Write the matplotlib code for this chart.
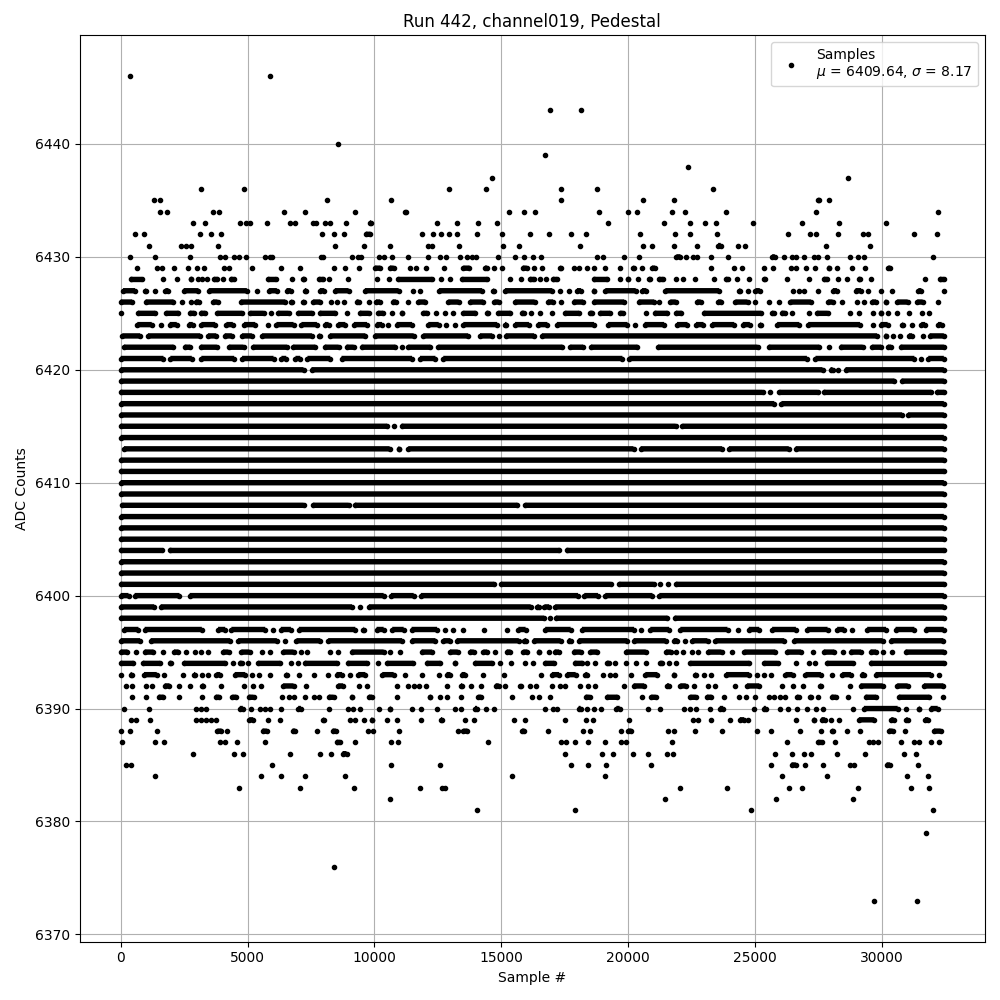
import numpy as np
import matplotlib
matplotlib.use("Agg")
import matplotlib.pyplot as plt

# samples, one list per ADC level
# a number is a lone sample, a pair (a, b) is a run of touching samples
adc_6446 = [381, 5865]
adc_6443 = [16917, 18140]
adc_6440 = [8548]
adc_6439 = [16719]
adc_6438 = [22361]
adc_6437 = [14623, 28673]
adc_6436 = [3182, 4879, 12926, 14386, 17351, 18771, 23347]
adc_6435 = [1328, 1565, 8114, 10638, 17351, 20586, 21808, (27410, 27620), 27923]
adc_6434 = [1565, 1841, 3656, 3866, 6417, 7246, 9218, 11190, 11243, 15293, 15885, 16325, 18850, 19994, 20349,
            21730, 22256, 23860, 27410, 32223]
adc_6433 = [2867, 3340, 4721, 4944, 5115, 5747, 6654, 6851, 7561, 7693, 8035, 8232, 8863, (9731, 9955), 12453,
            13242, 14071, 14820, 19205, 21414, 22440, 23031, 23465, 24925, 26858, 28318, 30172]
adc_6432 = [552, 934, 3143, 3577, 3971, 7916, 8390, 8784, (9573, 9928), 11861, 12295, 12611, 12926, 13268, 14031,
            15017, 16128, 16877, 17745, 18337, 20467, 21848, 22440, 23505, 26306, 27174, 27410, 28278, 29264, 29462,
            31276, 32184]
adc_6431 = [1131, 2380, 2564, 2775, 3853, 8429, 9573, 10599, 12098, 12256, 13321, 15057, 15688, 18100, 20586,
            20941, 21808, 22716, (23544, 23650), 24333, 24609, 27805, 29541]
adc_6430 = [381, 1368, 2748, 3906, 4103, 4484, 4681, 4958, 5668, 5878, 5957, 7890, 7969, 9100, 9337, 9468, 10165,
            10362, 10678, 11309, 12098, 12571, 12808, 13360, 13636, 13834, 14005, 14860, 15530, 15891, 16246, 16562,
            18771, 19008, 19836, 20428, (21901, 22058), 22295, 22558, 22716, 23268, 23939, (25675, 25780), 26148,
            26464, 26621, 26937, 27331, 27489, 27844, 28752, 29067, 29304, 32026]
adc_6429 = [657, 1447, 1644, 2117, 2669, 3025, 3301, 4090, 4287, 5194, 6299, 7048, 8390, 8824, 9402, (9928, 10322),
            (10520, 10849), 11401, 11625, 12019, 12729, (13413, 13834), (14268, 14531), 14702, 15017, (15846, 16003),
            16285, 16601, (17232, 17430), 17863, 18061, 18376, 18652, 19086, 19678, (20112, 20309), 20546,
            (20941, 21059), 23268, 24175, 24491, 25359, 25714, 26424, 26621, 27016, 27371, (27805, 28002), 28239,
            28830, 29343, (30251, 30329)]
adc_6428 = [(302, 920), 1670, 2235, (2669, 2880), 3064, 3222, 3419, (3682, 3813), 4037, (4247, 4537), (5720, 6207),
            6733, (7101, 7325), (7824, 7982), 8192, 8942, 10086, 10559, (10849, 12361), 12611, 12966, (13374, 14531),
            15333, 15767, (16043, 16377), 16535, 16772, (17035, 17193), (18547, 19270), 19678, (19902, 20086), 20388,
            (20743, 20954), (21217, 21375), 21887, 22163, 22650, 23400, (23768, 24005), 24294, 24767, (25280, 25477),
            26266, 27134, (27713, 27844), 28278, 28633, (28988, 29225), 29580, 31710, (32289, 32440)]
adc_6427 = [(92, 657), (881, 1078), 1368, (1762, 1880), (2393, 3156), (3380, 5063), 5391, (5747, 6246), (6535, 6706),
            (7167, 7404), (7758, 8114), (8350, 9073), (9534, 11046), 11506, 11782, (12453, 14333), (14597, 14794),
            (15057, 17100), 17324, 17653, (17982, 18140), (18547, 18745), (19008, 20388), (20546, 20717),
            (21375, 23676), (24294, 24504), 24728, (25017, 25188), 26503, 26740, 26937, 27489, (27976, 28318),
            (28870, 29265), 29462, 29975, 30409, (31434, 31553), 32440]
adc_6426 = [(0, 539), (894, 2170), 2433, 2762, (2959, 3090), (3551, 3906), (4642, 6575), (6641, 6838), (7101, 7298),
            (7496, 7956), 8285, 8508, 8784, (9205, 9468), 9771, (10060, 10218), (10717, 10849), 11309, (11638, 12098),
            (12821, 13413), (13676, 14373), (14728, 14899), (15451, 16404), (16746, 17127), 17364, (17758, 18310),
            (18547, 19928), (20323, 21112), 21217, (21572, 21966), (22624, 22950), (23544, 23676), (24136, 24793),
            25004, 25543, 25951, (26306, 27292), (27792, 28147), 28436, 29028, 29304, (29527, 29856), (30054, 30251),
            (30514, 31106), (31302, 31697), 32223]
adc_6425 = [26, (592, 1447), (1710, 2367), (2722, 2893), (3156, 3327), (3722, 4866), (5023, 5720), 5918, (6115, 6706),
            (6904, 7627), (7758, 8548), 8902, (9337, 9863), (10060, 10428), 10691, (10980, 11178), (11835, 12164), 12440,
            12769, 13084, (13413, 14071), (14333, 14557), (14794, 15451), (15714, 15983), 16180, 16522, 16996,
            (17430, 18153), (18416, 18679), (18810, 19376), (19599, 19875), 20691, (20954, 21638), (21795, 22190),
            (22887, 25320), (25583, 25820), (26043, 26174), 26437, 27134, (27358, 27950), 28739, 29107, 29633,
            (29856, 30054), 30251, 30606, 31079, 31592, 31868]
adc_6424 = [(565, 1315), 1604, (1841, 2301), (2591, 2932), (3090, 3813), (4077, 4510), (4773, 5392), 5786, (6049, 6904),
            (7035, 7824), (7956, 8285), (8482, 8942), (9100, 9797), (9994, 10388), 10520, (10783, 11572), (12032, 12624),
            12821, 13163, (13413, 14925), (15057, 15293), (15451, 16180), (16351, 16904), (17100, 18745), (19113, 20060),
            20257, (20559, 21506), (21835, 22426), (22584, 23058), (23216, 24268), (24425, 24886), (25122, 25320),
            (25780, 26832), (27003, 29225), 29659, (29856, 30317), (30711, 30908), 31171, (31460, 31789), (32118, 32355)]
adc_6423 = [(66, 855), (986, 3222), (3353, 3853), (4011, 4471), (4694, 5260), (5483, 7627), (7719, 7929), (8153, 9731),
            (9928, 11638), (11835, 13781), (14071, 14728), 14899, (15083, 16378), (16509, 29896), (30054, 30251), 30421,
            30711, (30974, 31276), 31605, (31789, 32440)]
adc_6422 = [(131, 2170), (2433, 2827), (3064, 3879), (4182, 4931), (5128, 6640), (6706, 7758), (7956, 8679), (8811, 9271),
            (9402, 10915), 11072, (11243, 12295), (12427, 17495), (17627, 18310), (18442, 20454), (21085, 25188),
            (25451, 27620), 27910, (28278, 29331), (29527, 30054), (30146, 30448), (30645, 32440)]
adc_6421 = [(0, 1775), (1868, 2893), (3090, 4563), (4694, 6115), (6246, 6614), (6799, 7167), (7272, 8350), (8613, 11572),
            (11704, 12493), (12624, 19862), (19954, 27134), (27292, 31368), 31539, (31737, 32440)]
adc_6420 = [(0, 7298), (7430, 27750), (27884, 28147), 28278, (28476, 32440)]
adc_6419 = [(0, 30580), (30685, 32440)]
adc_6418 = [(0, 25385), 25583, (25872, 27555), (27620, 32026), (32092, 32440)]
adc_6417 = [(0, 25845), (25951, 32440)]
adc_6416 = [(0, 30880), (30940, 32440)]
adc_6415 = [(0, 10586), 10783, (10980, 21960), (22050, 32440)]
adc_6414 = [(0, 32440)]
adc_6413 = [(130, 10691), (10860, 11060), (11243, 20300), (20400, 23790), (23880, 26420), (26510, 32440)]
adc_6412 = [(0, 32440)]
adc_6411 = [(0, 32440)]
adc_6410 = [(0, 32440)]
adc_6409 = [(0, 32440)]
adc_6408 = [(66, 7298), (7496, 9073), (9140, 15720), (15860, 32440)]
adc_6407 = [(0, 32440)]
adc_6406 = [(0, 32440)]
adc_6405 = [(0, 32440)]
adc_6404 = [(0, 1700), (1840, 17380), (17480, 32440)]
adc_6403 = [(0, 32440)]
adc_6402 = [(0, 32440)]
adc_6401 = [(0, 14800), (14900, 19400), (19560, 21090), 21243, 21571, (21800, 32440)]
adc_6400 = [(0, 400), (460, 2406), (2630, 10454), (10560, 11638), (11740, 18113), (18180, 18900), (19008, 21046),
            (21138, 32440)]
adc_6399 = [(0, 1407), (1486, 9205), 9429, (9692, 16250), (16330, 16570), (16700, 16880), (17035, 32440)]
adc_6398 = [(0, 16770), 16930, (17061, 21637), (21743, 32440)]
adc_6397 = [(131, 789), (855, 3288), (3748, 4208), (4274, 5786), 5983, (6220, 6799), (6930, 9337), (9468, 9665),
            (9994, 10454), (10612, 11243), (11375, 12558), 12769, 13084, 13479, 14307, 15215, (15583, 16049),
            (16640, 17824), (18087, 20322), 20520, (20783, 21704), (21966, 24005), 24333, (24662, 25254), (25583, 26700),
            (26963, 27950), (28147, 28607), 28804, (29330, 30251), (30448, 31368), (31631, 32440)]
adc_6396 = [(0, 855), (1091, 4405), (4536, 6246), 6457, (6838, 7956), (8087, 11178), (11375, 12493), (12624, 13084),
            (13150, 15780), (15911, 15983), (16180, 17430), (17561, 17824), (17956, 20060), (20125, 21572), (21703, 22032),
            22229, (22427, 23216), (23347, 26240), (26437, 30120), (30251, 32420)]
adc_6395 = [(0, 355), 618, (855, 1381), 1657, (2012, 2367), 2591, 2932, 3182, 3458, (3945, 4340), (4668, 5168), 5576, 5904,
            (6312, 6904), 7088, 7325, 8245, 8548, (9008, 10454), 10599, 10993, (11769, 12361), (12887, 13373),
            (13676, 14005), (14202, 14531), 14754, (15123, 15451), (15780, 16115), (16378, 16575), 16877, (17100, 17272),
            (17758, 18219), (18416, 18876), (19823, 20783), (21401, 21769), 21901, 22163, 22519, 22755, (23058, 23768),
            24097, (24491, 25885), (26174, 26898), 27292, (27620, 28212), 28450, (28673, 29265), (29462, 29856), 30027,
            30409, (30842, 32440)]
adc_6394 = [(0, 592), (789, 1644), (1841, 2065), (2406, 4208), 4418, (4602, 4866), 5036, (5326, 6378), 6706, 6970,
            (7167, 8613), (8850, 9797), 10126, (10415, 11612), (11967, 12690), (13084, 13282), (13873, 14728), 14965,
            15372, 15925, 16246, (16640, 17166), (17798, 18284), 18376, 18692, (19073, 19336), 19494, 19928, 20323, 20691,
            (21177, 21440), 21611, 21901, (22361, 24859), (25280, 25977), 26608, 27108, 27371, (27752, 28936),
            (29462, 32440)]
adc_6393 = [26, (302, 526), (828, 1512), 1723, 2472, (2801, 3025), 3222, 3458, (3682, 4011), (4405, 4997), 5194, 5470, 5891,
            (6444, 6641), 7009, 7601, 8153, (8416, 8811), 9034, (9271, 9731), (10218, 10849), 11190, 11861, 12532,
            (12755, 13084), (13347, 13676), 14268, 15123, 16575, (16904, 17364), (17495, 18021), (18219, 18482), 19008,
            19270, 19468, 20125, (20586, 21243), (21703, 21901), (22558, 22755), 22992, 23255, (23768, 24859), 25083,
            25359, 25648, (26108, 26569), (26898, 27687), 28015, (28344, 28870), (29107, 29396), (29659, 32026), 32263]
adc_6392 = [224, 434, 986, 1223, (1644, 2012), 2315, 2735, (3130, 3353), 3971, 4879, 5220, 5549, (6312, 6904), 7285,
            (8482, 8850), 9376, 9692, 10875, 11309, 11572, 11769, 12019, 12848, (13321, 13545), 13807, 14202,
            (14688, 14991), 15136, 15727, 15759, 16141, 16378, 16996, 17298, 17495, 18100, 18416, 18705, 19836,
            (20125, 20717), (21440, 21703), (21966, 22361), 22598, 23150, 23413, 24215, (24596, 25254), 26069, 26503, 26898,
            (27489, 27687), 28752, (29067, 30120), (30514, 31106), (31566, 32420)]
adc_6391 = [460, 1013, (1407, 1775), 2315, 3222, (3748, 3879), (4313, 4642), (4958, 5326), 6351, 6641, 6838, 7246, 7627,
            7824, (8114, 8482), (9008, 9205), (9692, 9994), 10875, (12098, 12295), 12571, 12860, 13413, (14005, 14294),
            15412, 16220, 16483, 16930, (18324, 18482), (19073, 19665), 20546, (20822, 21177), (22361, 22755),
            (23110, 23281), 23768, 24373, 24662, 24991, 25543, 25740, 25977, 26174, (26569, 26805), (27094, 27292), 27489,
            (28015, 28186), 28673, (29264, 29856), (30580, 31960), 32420]
adc_6390 = [145, 1131, 2959, 3156, 3353, (4602, 4905), 5128, 5483, 5681, 5878, 6312, (6904, 7193), 8192, 8942, 9140, 9442,
            10165, (10520, 10717), 11467, 11822, 12453, 13189, 13413, (13873, 14136), 14386, 14715, 16719, 17035, 17193,
            (17956, 18219), 18389, 18652, 18929, (19534, 19665), 20783, 21243, 22190, 22453, 22676, 23229, (23610, 23742),
            24964, (25254, 25517), 25990, 26306, 26661, 27055, 27397, 27660, 28870, (29199, 30711), 30961, (31368, 31566),
            (31829, 32289)]
adc_6389 = [421, 592, 1144, 2959, 3156, 3353, 3551, 3774, (5063, 5220), 5825, 6259, (7890, 8087), 9047, 9245, 9573,
            (9797, 9994), 10481, 10875, 11822, (12532, 12755), 13558, 13939, 15491, 15925, 17508, 18337, 18613, 20014,
            22558, 22755, 23268, 24005, (24399, 24570), 24728, 26621, (27226, 27424), (27620, 27752), 28002, 28318,
            (29002, 29790), (30277, 30553), (30869, 31106), (31697, 31829)]
adc_6388 = [26, 381, 1447, (3814, 3971), 4208, (5589, 5760), (6772, 6878), 7719, (8350, 8482), 9731, 9928, 10954, 13282,
            (13505, 13663), (15820, 15911), 16838, 18219, 18495, 19731, (19994, 20125), 21572, 21795, 22637, 23702, 25083,
            25635, 26766, 27608, (27950, 28147), 28633, 29146, (30185, 30514), 30908, (31960, 32316)]
adc_6387 = [66, 1368, 1723, 3932, 4103, 4602, 5668, (8508, 8640), 9245, 10638, 10915, 14465, 17364, 17535, 17903, 18416,
            19086, 19731, 19928, 21730, 26266, (27489, 27620), 28160, 29501, 29659, 29830, 30750, 31263, 31460, 31947, 32263]
adc_6386 = [2867, 4484, 4839, 6654, 7837, 8285, (8745, 8902), 17508, 18968, 19402, 20191, 20783, 21532, 21769, 25793, 26464,
            26937, 27213, 28239, 29343, 30882, 31355]
adc_6385 = [197, 421, 5944, 10638, 12571, 17745, 18416, 19139, 20901, 25648, (26437, 26608), 26976, 27687, 28739, 28896,
            (30185, 30317), 31434]
adc_6384 = [1368, 5510, 6299, 7246, 8824, 15412, 19086, 26069, 27844, 30999, 31829]
adc_6383 = [4681, 7048, 9179, 11782, 12650, 12782, 22045, 23899, 26345, 26858, 29067, 31158, 31868]
adc_6382 = [10599, 21453, 25832, 28870]
adc_6381 = [14031, 17903, 24846, 32026]
adc_6379 = [31750]
adc_6376 = [8390]
adc_6373 = [29698, 31395]

levels = [6446, 6443, 6440, 6439, 6438, 6437, 6436, 6435, 6434, 6433, 6432, 6431, 6430, 6429, 6428, 6427, 6426, 6425,
          6424, 6423, 6422, 6421, 6420, 6419, 6418, 6417, 6416, 6415, 6414, 6413, 6412, 6411, 6410, 6409, 6408, 6407,
          6406, 6405, 6404, 6403, 6402, 6401, 6400, 6399, 6398, 6397, 6396, 6395, 6394, 6393, 6392, 6391, 6390, 6389,
          6388, 6387, 6386, 6385, 6384, 6383, 6382, 6381, 6379, 6376, 6373]
rows = [adc_6446, adc_6443, adc_6440, adc_6439, adc_6438, adc_6437, adc_6436, adc_6435, adc_6434, adc_6433, adc_6432,
        adc_6431, adc_6430, adc_6429, adc_6428, adc_6427, adc_6426, adc_6425, adc_6424, adc_6423, adc_6422, adc_6421,
        adc_6420, adc_6419, adc_6418, adc_6417, adc_6416, adc_6415, adc_6414, adc_6413, adc_6412, adc_6411, adc_6410,
        adc_6409, adc_6408, adc_6407, adc_6406, adc_6405, adc_6404, adc_6403, adc_6402, adc_6401, adc_6400, adc_6399,
        adc_6398, adc_6397, adc_6396, adc_6395, adc_6394, adc_6393, adc_6392, adc_6391, adc_6390, adc_6389, adc_6388,
        adc_6387, adc_6386, adc_6385, adc_6384, adc_6383, adc_6382, adc_6381, adc_6379, adc_6376, adc_6373]

# run ends were read at the dot outline, the dot centre sits a bit further in
trim = 90

dots_x, dots_y = [], []
runs_x, runs_y = [], []
for level, row in zip(levels, rows):
    for item in row:
        if isinstance(item, tuple):
            a, b = item
            if b - a > 2 * trim:
                if a > 300:
                    a += trim
                if b < 32300:
                    b -= trim
            dots_x += [a, b]
            dots_y += [level, level]
            runs_x += [a, b, np.nan]
            runs_y += [level, level, np.nan]
        else:
            dots_x.append(item)
            dots_y.append(level)

fig, ax = plt.subplots(figsize=(10, 10), dpi=100)
ax.plot(runs_x, runs_y, color="k", lw=3.9, solid_capstyle="butt")
ax.plot(dots_x, dots_y, "k.", label="Samples\n$\\mu$ = 6409.64, $\\sigma$ = 8.17")
ax.set_title("Run 442, channel019, Pedestal")
ax.set_xlabel("Sample #")
ax.set_ylabel("ADC Counts")
ax.grid(True)
ax.legend(loc="upper right")
fig.tight_layout()
fig.subplots_adjust(top=0.965)
fig.savefig("out.png")
